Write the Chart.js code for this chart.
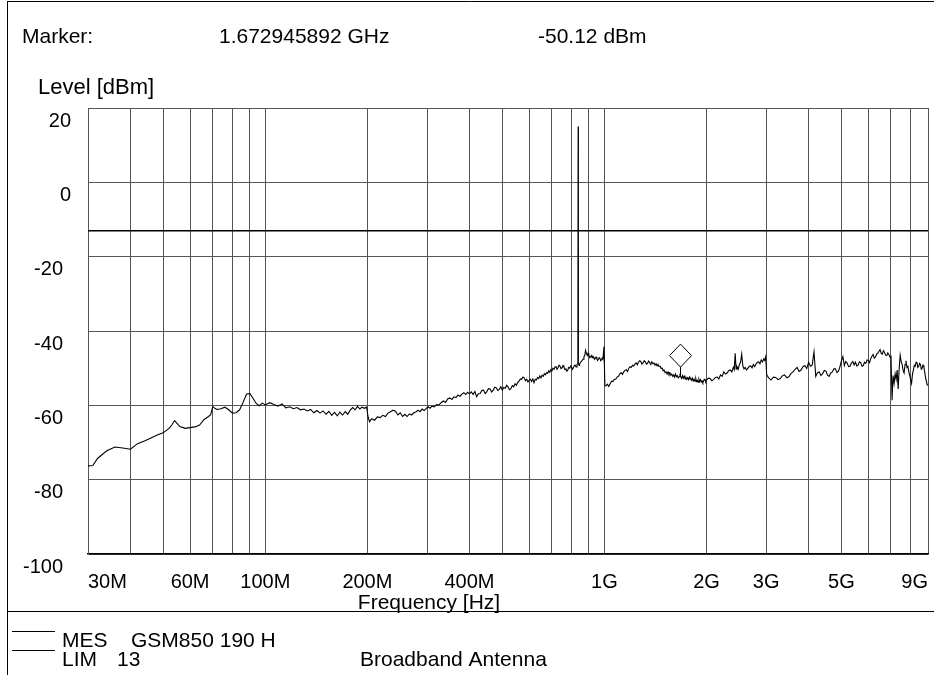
<!DOCTYPE html>
<html><head><meta charset="utf-8">
<script src="https://cdn.jsdelivr.net/npm/chart.js@4"></script>
<style>html,body{margin:0;padding:0;background:#fff;}canvas{display:block;}</style>
</head><body>
<canvas id="c" width="934" height="675"></canvas>
<script>
// ---- data (frequency in MHz, level in dBm) ----
const bandAFreq = [
 30,31,32,34,36,38,40,42,44,46,
 48,50,52,53,54,55,56,58,60,62,
 64,66,68,69,70,71,72,74,76,78,
 80,82,84,86,88,90,92,94,96,98,
 100];
const bandALevel = [
 -76.3,-76.2,-74.3,-72.3,-71.2,-71.5,-71.8,-70.3,-69.6,-68.8,
 -68.0,-67.4,-66.2,-65.3,-64.1,-64.9,-65.7,-66.2,-66.0,-65.8,
 -65.3,-63.8,-63.0,-62.5,-60.3,-60.8,-61.1,-60.9,-60.5,-61.2,
 -62.1,-62.0,-61.2,-59.2,-57.0,-56.8,-58.1,-59.5,-60.1,-59.4,
 -59.9];
const bandBFreq = [
 103,106,109,112,115,118,121,124,127,130,
 133,136,139,142,145,148,151,154,157,160,
 163,166,169,172,175,178,181,184,187,190,
 193,196,199];
const bandBLevel = [
 -59.3,-59.8,-60.2,-59.6,-60.7,-60.4,-60.9,-60.6,-61.2,-61.0,
 -61.5,-61.1,-62.0,-61.4,-62.1,-61.5,-62.4,-61.6,-62.7,-61.9,
 -62.8,-61.8,-62.6,-61.7,-62.4,-61.3,-60.6,-61.2,-60.3,-61.0,
 -60.5,-60.8,-60.5];
const bandCFreq = [
 201,203,206,210,214,218,222,226,230,234,
 238,242,246,250,254,258,262,266,270,274,
 278,282,286,290,294,298,302,306,310,315,
 320,325,330,335,340,345,350,355,360,365,
 370,375,380,385,390,395,400];
const bandCLevel = [
 -63.2,-64.4,-63.6,-64.0,-63.1,-63.3,-62.7,-63.0,-62.1,-61.7,
 -61.3,-61.6,-62.6,-62.0,-63.0,-62.4,-63.0,-62.3,-62.6,-62.0,
 -61.8,-61.3,-61.7,-61.0,-61.4,-60.9,-60.4,-60.8,-60.2,-60.4,
 -59.8,-59.9,-59.3,-58.8,-59.2,-58.3,-58.0,-58.4,-57.7,-57.9,
 -57.2,-57.6,-57.0,-56.6,-57.1,-56.5,-56.9];
const bandDFreq = [
 405,410,415,420,425,430,435,440,445,450,
 455,460,465,470,475,480,485,490,495,500,
 505,510,515,520,525,530,535,540,545,550,
 555,560,565,570,575,580,585,590,595,600,
 605,610,615,620,625,630,635,640,645,650,
 655,660,665,670,675,680,685,690,695,700,
 705,710,715,720,725,730,735,740,745,750,
 755,760,765,770,775,780,785,790,795,800,
 805,810,815,820,825,830,835,836.6,838,842,
 845,850,855,860,865,870,875,880,885,890,
 895,900,905,910,915,920,925,930,935,940,
 945,950,955,960,965,970,975,980,985,990,
 997,1003];
const bandDLevel = [
 -56.4,-57.1,-56.3,-57.7,-56.9,-56.8,-56.0,-55.9,-56.8,-56.3,
 -55.5,-55.6,-56.4,-55.9,-55.1,-55.3,-56.0,-55.7,-55.0,-55.9,
 -55.2,-55.4,-54.6,-55.1,-55.8,-55.5,-54.7,-55.0,-54.2,-54.6,
 -53.8,-53.5,-52.9,-53.0,-52.4,-52.6,-53.4,-53.0,-53.7,-53.3,
 -53.0,-53.6,-52.9,-53.9,-53.0,-53.2,-52.5,-52.8,-52.1,-52.6,
 -51.9,-52.2,-51.5,-51.8,-51.2,-51.4,-50.7,-51.1,-50.4,-50.8,
 -50.0,-50.3,-49.7,-49.6,-50.3,-49.8,-49.2,-49.5,-50.1,-49.9,
 -49.3,-49.8,-50.4,-50.2,-50.8,-50.5,-49.8,-50.0,-49.4,-49.7,
 -50.3,-49.9,-49.3,-49.2,-49.7,-49.0,-48.8,15.0,-48.7,-49.3,
 -48.9,-48.4,-48.2,-47.9,-47.6,-47.0,-46.6,-45.2,-46.0,-46.6,
 -46.0,-46.5,-47.2,-47.0,-46.6,-47.2,-46.8,-47.0,-47.6,-47.3,
 -47.0,-47.5,-47.9,-47.6,-47.2,-47.4,-48.0,-47.8,-47.3,-47.6,
 -44.2,-54.5];
const bandEFreq = [
 1010,1020,1030,1040,1050,1060,1070,1080,1090,1100,
 1110,1120,1130,1140,1150,1160,1170,1180,1190,1200,
 1210,1220,1230,1240,1250,1260,1270,1280,1290,1300,
 1310,1320,1330,1340,1350,1360,1370,1380,1390,1400,
 1410,1420,1430,1440,1450,1460,1470,1480,1490,1500,
 1510,1520,1530,1540,1550,1560,1570,1580,1590,1600,
 1610,1620,1630,1640,1650,1660,1670,1680,1690,1700,
 1710,1720,1730,1740,1750,1760,1770,1780,1790,1800,
 1810,1820,1830,1840,1850,1860,1870,1880,1890,1900,
 1910,1920,1930,1940,1950,1960,1970,1980,1990,2000];
const bandELevel = [
 -54.8,-54.3,-54.9,-54.2,-53.5,-53.6,-53.0,-53.0,-52.4,-52.2,
 -51.5,-51.2,-51.7,-51.0,-50.6,-50.4,-50.9,-50.0,-49.6,-49.8,
 -49.2,-49.4,-48.9,-48.6,-49.1,-48.4,-48.0,-48.2,-48.9,-48.6,
 -48.0,-48.3,-48.9,-48.7,-48.1,-48.5,-49.0,-48.3,-48.8,-48.6,
 -49.2,-48.8,-49.4,-49.0,-49.6,-49.5,-50.1,-50.0,-50.7,-50.5,
 -51.2,-51.0,-51.6,-51.0,-51.7,-51.3,-51.9,-51.6,-52.2,-51.8,
 -52.4,-51.6,-52.3,-52.0,-52.6,-52.3,-51.9,-52.3,-52.8,-52.0,
 -52.7,-52.2,-52.9,-52.5,-53.0,-52.6,-53.1,-52.4,-53.0,-52.8,
 -53.3,-52.7,-53.4,-53.0,-53.5,-52.8,-53.6,-53.3,-53.8,-53.0,
 -53.6,-53.1,-53.7,-53.4,-53.9,-53.5,-53.0,-53.1,-53.6,-53.2];
const bandFFreq = [
 2025,2050,2075,2100,2125,2150,2175,2200,2225,2250,
 2275,2300,2325,2350,2375,2400,2415,2430,2445,2460,
 2480,2500,2520,2540,2560,2580,2600,2625,2650,2675,
 2700,2725,2750,2775,2800,2825,2850,2875,2900,2925,
 2950,2970,2990,3010];
const bandFLevel = [
 -52.7,-52.8,-53.4,-53.0,-52.5,-52.4,-52.9,-51.8,-52.2,-51.0,
 -51.6,-51.3,-50.7,-50.5,-51.0,-49.8,-50.4,-46.0,-50.2,-49.6,
 -50.3,-49.0,-48.4,-46.2,-49.4,-50.2,-49.8,-50.5,-50.0,-49.5,
 -49.4,-49.9,-49.0,-49.6,-48.9,-48.4,-48.3,-48.8,-47.8,-48.3,
 -47.5,-47.9,-46.9,-51.8];
const bandGFreq = [
 3050,3100,3150,3200,3250,3300,3350,3400,3450,3500,
 3550,3600,3650,3700,3750,3800,3850,3900,3950,4000,
 4050,4100,4150,4200,4250,4300,4350,4400,4450,4500,
 4550,4600,4650,4700,4750,4800,4850,4900,4950,5000,
 5050,5100,5150,5200,5250,5300,5350,5400,5450,5500,
 5550,5600,5650,5700,5750,5800,5850,5900,5950,6000,
 6050,6100,6150,6200,6250,6300,6350,6400,6450,6500,
 6550,6600,6650,6700,6750,6800,6850,6900,6950,7000,
 7050,7100,7150,7200,7250,7300,7350,7400,7450,7500,
 7550,7600,7650,7700,7750,7800,7850,7900,7950,8000,
 8050,8100,8150,8200,8250,8300,8350,8400,8450,8500,
 8550,8600,8650,8700,8750,8800,8850,8900,8950,9000];
const bandGLevel = [
 -52.6,-53.2,-52.4,-52.5,-53.1,-52.8,-52.0,-51.8,-52.6,-52.3,
 -51.4,-51.0,-50.3,-49.8,-50.9,-50.5,-49.6,-49.3,-50.1,-48.4,
 -49.5,-49.2,-45.6,-52.2,-51.2,-51.0,-52.0,-51.5,-50.6,-50.8,
 -51.9,-52.2,-51.3,-51.0,-50.2,-50.2,-51.2,-50.8,-49.6,-48.0,
 -46.9,-49.3,-48.2,-48.6,-49.6,-49.5,-48.6,-48.2,-49.1,-48.4,
 -49.4,-49.2,-48.3,-48.5,-49.5,-49.3,-48.4,-48.7,-47.8,-47.9,
 -48.5,-47.5,-46.8,-46.3,-47.3,-47.0,-46.2,-46.0,-45.5,-45.0,
 -46.0,-46.2,-45.3,-45.8,-46.5,-46.6,-45.9,-46.3,-47.0,-46.8,
 -58.6,-52.0,-54.1,-51.5,-53.0,-50.5,-55.6,-50.0,-46.5,-48.2,
 -49.0,-50.6,-51.3,-49.0,-48.0,-49.8,-49.5,-51.0,-52.0,-53.0,
 -54.1,-51.6,-50.5,-49.2,-49.5,-48.4,-48.5,-49.8,-49.5,-48.7,
 -49.0,-50.3,-50.0,-49.2,-49.7,-51.0,-52.5,-53.5,-54.5,-54.5];

const limitFreqMHz = [30, 9000];
const limitLevel = [-13, -13];
const gridFreqMHz = [30,40,50,60,70,80,90,100,200,300,400,500,600,700,800,900,1000,2000,3000,4000,5000,6000,7000,8000,9000];
const xTickMHz = [30,60,100,200,400,1000,2000,3000,5000,9000];
const xTickLabels = ['30M','60M','100M','200M','400M','1G','2G','3G','5G','9G'];
const yTicks = [20,0,-20,-40,-60,-80,-100];
const markerFreqMHz = 1672.945892;
const markerLevel = -50.12;
const headerLabel = 'Marker:';
const headerFreq = '1.672945892 GHz';
const headerLevel = '-50.12 dBm';
const yTitle = 'Level [dBm]';
const xTitle = 'Frequency [Hz]';
const legendRow1 = ['MES', 'GSM850 190 H'];
const legendRow2 = ['LIM', '13', 'Broadband Antenna'];

const traceFreq = [].concat(bandAFreq, bandBFreq, bandCFreq, bandDFreq, bandEFreq, bandFFreq, bandGFreq);
const traceLevel = [].concat(bandALevel, bandBLevel, bandCLevel, bandDLevel, bandELevel, bandFLevel, bandGLevel);

// ---- drawing ----
const FAM = '"Liberation Sans", Arial, sans-serif';
const decor = {
  id: 'decor',
  afterDraw(chart) {
    const ctx = chart.ctx, xs = chart.scales.x, ys = chart.scales.y;
    ctx.save();
    ctx.strokeStyle = '#000'; ctx.lineWidth = 1;
    ctx.beginPath();
    ctx.moveTo(7, 1.5); ctx.lineTo(934, 1.5);
    ctx.moveTo(7.5, 1); ctx.lineTo(7.5, 675);
    ctx.moveTo(7, 611.5); ctx.lineTo(934, 611.5);
    ctx.moveTo(12, 631.5); ctx.lineTo(55, 631.5);
    ctx.moveTo(12, 650.5); ctx.lineTo(55, 650.5);
    ctx.stroke();

    ctx.fillStyle = '#000'; ctx.textBaseline = 'middle'; ctx.textAlign = 'left';
    ctx.font = '21px ' + FAM;
    ctx.fillText(headerLabel, 22, 37);
    ctx.fillText(headerFreq, 219, 37);
    ctx.fillText(headerLevel, 538, 37);
    ctx.font = '22px ' + FAM;
    ctx.fillText(yTitle, 38, 88);
    ctx.font = '21px ' + FAM;
    ctx.fillText(legendRow1[0], 62, 641);
    ctx.fillText(legendRow1[1], 131, 641);
    ctx.fillText(legendRow2[0], 62, 660);
    ctx.fillText(legendRow2[1], 117, 660);
    ctx.fillText(legendRow2[2], 360, 660);
    ctx.textAlign = 'center';
    ctx.fillText(xTitle, 429, 603);

    ctx.font = '20px ' + FAM;
    xTickMHz.forEach((f, i) => {
      const px = xs.getPixelForValue(f * 1e6);
      ctx.textAlign = i === 0 ? 'left' : (i === xTickMHz.length - 1 ? 'right' : 'center');
      ctx.fillText(xTickLabels[i], px, 582);
    });
    ctx.textAlign = 'right';
    yTicks.forEach(v => {
      const py = ys.getPixelForValue(v) + 13;
      ctx.fillText(String(v), v >= 0 ? 71 : 63, py);
    });

    // marker
    const mx = Math.round(xs.getPixelForValue(markerFreqMHz * 1e6)) + 0.5;
    const my = ys.getPixelForValue(markerLevel) - 1.5;
    ctx.beginPath();
    ctx.moveTo(mx, my); ctx.lineTo(mx, my + 9);
    ctx.stroke();
    ctx.beginPath();
    ctx.moveTo(mx, my - 23); ctx.lineTo(mx + 11, my - 11.5); ctx.lineTo(mx, my); ctx.lineTo(mx - 11, my - 11.5); ctx.closePath();
    ctx.fillStyle = '#fff'; ctx.fill(); ctx.stroke();
    ctx.restore();
  }
};

new Chart(document.getElementById('c').getContext('2d'), {
  type: 'line',
  data: {
    datasets: [
      { data: traceFreq.map((f, i) => ({ x: f * 1e6, y: traceLevel[i] })), borderColor: '#000', borderWidth: 1.1, pointRadius: 0, tension: 0 },
      { data: limitFreqMHz.map((f, i) => ({ x: f * 1e6, y: limitLevel[i] })), borderColor: '#000', borderWidth: 1.5, pointRadius: 0 }
    ]
  },
  options: {
    responsive: false, animation: false, devicePixelRatio: 1,
    layout: { padding: { top: 108, right: 6, left: 0, bottom: 0 } },
    plugins: { legend: { display: false }, tooltip: { enabled: false } },
    scales: {
      x: {
        type: 'logarithmic', min: 30e6, max: 9e9,
        afterBuildTicks: s => { s.ticks = gridFreqMHz.map(v => ({ value: v * 1e6 })); },
        ticks: { display: false },
        grid: { color: '#555', lineWidth: 1, drawTicks: false },
        border: { color: '#000', width: 1.5 },
        afterFit: s => { s.height = 121; }
      },
      y: {
        min: -100, max: 20,
        afterBuildTicks: s => { s.ticks = yTicks.map(v => ({ value: v })); },
        ticks: { display: false },
        grid: { color: '#555', lineWidth: 1, drawTicks: false },
        border: { color: '#555' },
        afterFit: s => { s.width = 88; }
      }
    }
  },
  plugins: [decor]
});
</script>
</body></html>
